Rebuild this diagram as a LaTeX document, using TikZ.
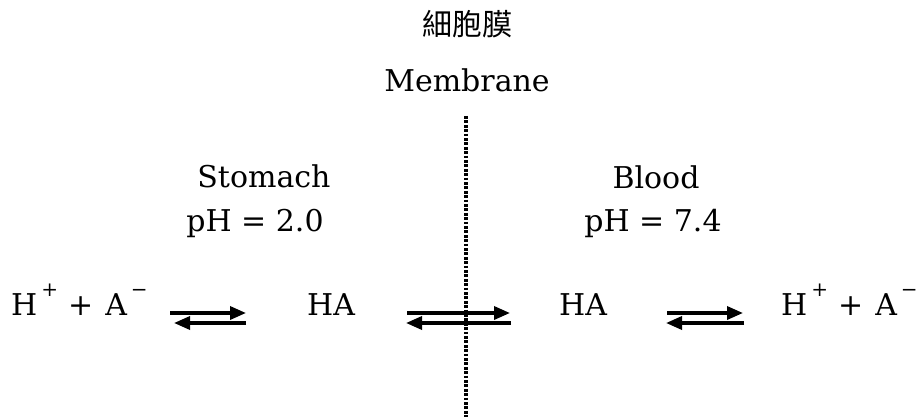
\documentclass[tikz,border=0pt]{standalone}
\usepackage{fontspec}
\setmainfont{DejaVu Serif}
\newfontfamily\cjk{Noto Sans CJK TC}
\usetikzlibrary{arrows.meta}
\newcommand\supch[1]{\raisebox{0.62em}{\fontsize{20}{20}\selectfont #1}}
\newcommand\ionpair{H\hspace{4pt}\supch{+}\hspace{10pt}+\hspace{12pt}A\hspace{4pt}\supch{−}}
\begin{document}
\begin{tikzpicture}[x=1pt,y=-1pt,
  lbl/.style={inner sep=0pt,font=\fontsize{30}{30}\selectfont},
  eqarrow/.style={line width=3.4pt,-{Triangle[length=16pt,width=13pt]}},
  membrane/.style={line width=3.6pt,dash pattern=on 2.8pt off 1.6pt}]
\useasboundingbox (0,0) rectangle (920,417);
\node[inner sep=0pt,font=\cjk\fontsize{30}{30}\selectfont] (cjk) at (467,24) {細胞膜};
\node[lbl,anchor=base] (mem) at (467,92) {Membrane};
\node[lbl,anchor=base] (stom) at (264,187) {Stomach};
\node[lbl,anchor=base] (phs) at (255,231) {pH = 2.0};
\node[lbl,anchor=base] (blood) at (656,188) {Blood};
\node[lbl,anchor=base] (phb) at (653,231) {pH = 7.4};
\node[lbl,anchor=base west] (ionsL) at (11,315) {\ionpair};
\node[lbl,anchor=base] (haL) at (331,315) {HA};
\node[lbl,anchor=base] (haR) at (583,315) {HA};
\node[lbl,anchor=base west] (ionsR) at (781,315) {\ionpair};
\coordinate (mtop) at (466,116);
\coordinate (mbot) at (466,417);
\draw[membrane] (mtop) -- (mbot);
\coordinate (l1) at (170,313); \coordinate (l2) at (246,313);
\coordinate (l3) at (246,323); \coordinate (l4) at (174,323);
\coordinate (m1) at (407,313); \coordinate (m2) at (510,313);
\coordinate (m3) at (511,323); \coordinate (m4) at (406,323);
\coordinate (r1) at (667,313); \coordinate (r2) at (743,313);
\coordinate (r3) at (744,323); \coordinate (r4) at (666,323);
\draw[eqarrow] (l1) -- (l2);
\draw[eqarrow] (l3) -- (l4);
\draw[eqarrow] (m1) -- (m2);
\draw[eqarrow] (m3) -- (m4);
\draw[eqarrow] (r1) -- (r2);
\draw[eqarrow] (r3) -- (r4);
\end{tikzpicture}
\end{document}
